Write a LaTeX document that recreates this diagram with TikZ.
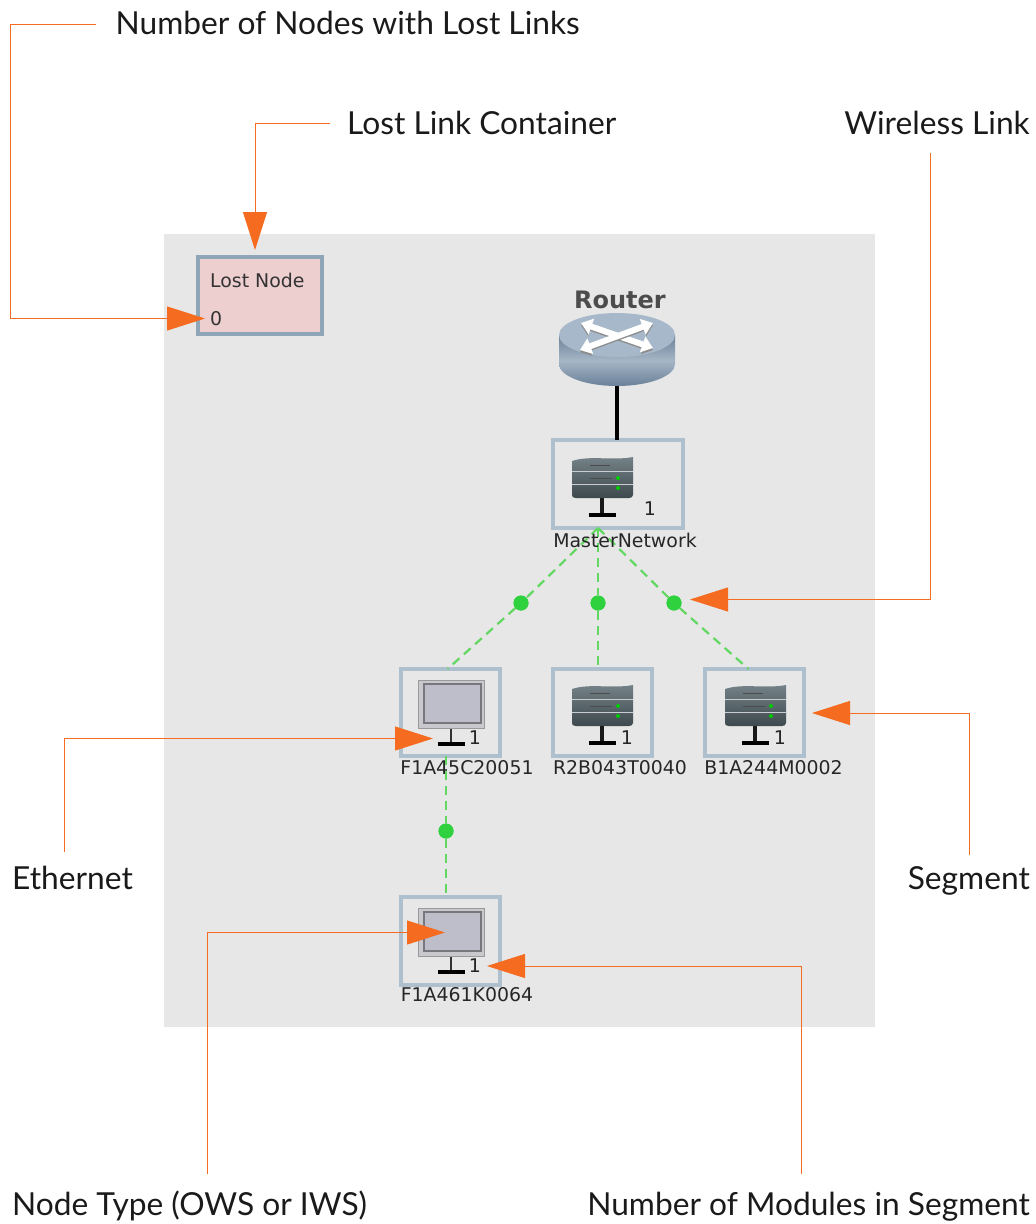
\documentclass[tikz,border=0pt]{standalone}
\usepackage{fontspec}
\setmainfont{Lato}
\newfontfamily\uifont{DejaVu Sans}
\usetikzlibrary{arrows.meta,shapes.geometric}
\definecolor{panelgray}{HTML}{E7E7E7}
\definecolor{callout}{HTML}{F56B1F}
\definecolor{boxedge}{HTML}{AEBFCE}
\definecolor{lostedge}{HTML}{8FA5B8}
\definecolor{lostfill}{HTML}{EDCFD0}
\definecolor{wifi}{HTML}{62D862}
\definecolor{wifidot}{HTML}{2FD13F}
\definecolor{inkblack}{HTML}{1A1A1A}
\definecolor{routerside}{HTML}{7F97AD}
\definecolor{routerdark}{HTML}{6A8199}
\definecolor{routertop}{HTML}{A6B8C9}
\definecolor{srvtop}{HTML}{76858B}
\definecolor{srvbot}{HTML}{3E494E}
\definecolor{monouter}{HTML}{C9C9CD}
\definecolor{moninner}{HTML}{BEBECB}
\definecolor{monedge}{HTML}{77777D}
\tikzset{
  x=1pt,y=-1pt,
  callouttext/.style={font=\fontsize{31.7}{36}\selectfont,text=inkblack,inner sep=0pt},
  uitext/.style={font=\uifont\fontsize{18.9}{22}\selectfont,text=black!85,inner sep=0pt},
  segbox/.style={draw=boxedge,line width=4pt,outer sep=0pt,inner sep=0pt},
  calloutline/.style={draw=callout,line width=0.9pt,-{Triangle[length=38pt,width=24pt,fill=callout]}},
  wifilink/.style={draw=wifi,line width=2.2pt,dash pattern=on 9pt off 6pt},
  wifinode/.style={circle,fill=wifidot,draw=none,minimum size=15pt,inner sep=0pt},
  pics/serverpic/.style={code={
    \draw[line width=3.4pt,black!90] (0,-17) -- (0,0);
    \draw[line width=3.8pt,black] (-13.5,0) -- (13.5,0);
    \shade[top color=srvtop,bottom color=srvbot]
      (-30,-54) .. controls (-12,-60) and (10,-54) .. (31,-58) -- (31,-20)
      .. controls (31,-18) and (29,-17) .. (27,-17) -- (-26,-17) .. controls (-29,-17) and (-30,-18) .. (-30,-20) -- cycle;
    \draw[white!60!srvtop,line width=0.7pt] (-30,-44) -- (31,-44) (-30,-31) -- (31,-31);
    \draw[black!70,line width=1pt] (-12,-50) -- (8,-50) (-12,-37) -- (10,-37);
    \fill[green!80!black] (16,-37) circle (2) (16,-27) circle (2);
  }},
  pics/monitorpic/.style={code={
    \draw[line width=2.6pt,black!80] (0,-16) -- (0,0);
    \draw[line width=3.8pt,black] (-13.5,0) -- (13.5,0);
    \filldraw[fill=monouter,draw=black!40,line width=1pt] (-33,-64) rectangle (33,-16);
    \filldraw[fill=moninner,draw=monedge,line width=1.6pt] (-27,-60) rectangle (30,-21);
  }}
}
\begin{document}
\begin{tikzpicture}
\useasboundingbox (0,0) rectangle (1036,1224);
\node[fill=panelgray,anchor=north west,minimum width=711pt,minimum height=793pt,inner sep=0pt,outer sep=0pt] (panel) at (164,234) {};

\coordinate (routerbottom) at (617,386);
\node[segbox,anchor=north west,minimum width=130pt,minimum height=88pt] (master) at (553,440) {};
\node[segbox,anchor=north west,minimum width=99pt,minimum height=87pt] (f1a) at (401,669) {};
\node[segbox,anchor=north west,minimum width=99pt,minimum height=87pt] (r2b) at (553,669) {};
\node[segbox,anchor=north west,minimum width=99pt,minimum height=87pt] (b1a) at (705,669) {};
\node[segbox,anchor=north west,minimum width=99pt,minimum height=88pt] (f1b) at (401,897) {};

\node[wifinode] (dotl) at (521,603) {};
\node[wifinode] (dotm) at (598,603) {};
\node[wifinode] (dotr) at (674,603) {};
\node[wifinode] (dotb) at (446,831) {};
\coordinate (hub) at (dotm |- master.south);

\draw[wifilink] (hub) -- (dotl) -- ([xshift=-3pt]f1a.north);
\draw[wifilink] (hub) -- (dotm) -- (dotm |- r2b.north);
\draw[wifilink] (hub) -- (dotr) -- ([xshift=-6pt]b1a.north);
\draw[wifilink] (dotb |- f1a.south) -- (dotb) -- (dotb |- f1b.north);
\node[wifinode] at (dotl) {};
\node[wifinode] at (dotm) {};
\node[wifinode] at (dotr) {};
\node[wifinode] at (dotb) {};

\draw[black,line width=3.4pt] (routerbottom) -- (master.north -| routerbottom);

% router icon
\shade[left color=routerdark,right color=routerdark,middle color=routerside!70!white,shading angle=0]
  (559,335) -- (559,364) arc[start angle=180,end angle=0,x radius=58,y radius=22] -- (675,335) -- cycle;
\fill[routertop] (617,335) ellipse[x radius=58,y radius=22];
\draw[black!45,line width=5pt,{Triangle[length=10pt,width=15pt,fill=black!45]}-{Triangle[length=10pt,width=15pt,fill=black!45]}] (581,325) -- (653,350);
\draw[white,line width=6pt,{Triangle[length=11pt,width=16pt,fill=white]}-{Triangle[length=11pt,width=16pt,fill=white]}] (581,323) -- (653,348);
\draw[black!45,line width=5pt,{Triangle[length=10pt,width=15pt,fill=black!45]}-{Triangle[length=10pt,width=15pt,fill=black!45]}] (653,325) -- (580,352);
\draw[white,line width=6pt,{Triangle[length=11pt,width=16pt,fill=white]}-{Triangle[length=11pt,width=16pt,fill=white]}] (653,323) -- (580,350);
\node[font=\uifont\bfseries\fontsize{24}{28}\selectfont,text=black!70,inner sep=0pt] (routerlabel) at (620,300) {Router};

% icons
\pic at (602,515) {serverpic};
\pic at (602,743) {serverpic};
\pic at (755,743) {serverpic};
\pic at (451,744) {monitorpic};
\pic at (451,972) {monitorpic};

% counts
\node[uitext] (c1) at (650,509) {1};
\node[uitext] (c2) at (475,738) {1};
\node[uitext] (c3) at (627,738) {1};
\node[uitext] (c4) at (780,738) {1};
\node[uitext] (c5) at (475,966) {1};

% node labels
\node[uitext] (lm) at (625,540) {MasterNetwork};
\node[uitext] (l1) at (467,768) {F1A45C20051};
\node[uitext] (l2) at (620,768) {R2B043T0040};
\node[uitext] (l3) at (773.5,768) {B1A244M0002};
\node[uitext] (l4) at (467,995) {F1A461K0064};

% lost box
\node[draw=lostedge,line width=4pt,outer sep=0pt,fill=lostfill,anchor=north west,minimum width=124pt,minimum height=77pt,inner sep=0pt] (lost) at (198,257) {};
\node[uitext,anchor=west,text=black!80] (losttext) at (210,280.5) {Lost Node};
\node[uitext,anchor=west,text=black!80] (lostcount) at (210,319) {0};

% callout labels
\node[callouttext,anchor=base west] (t1) at (115.5,34) {Number of Nodes with Lost Links};
\node[callouttext,anchor=base west] (t2) at (347,134) {Lost Link Container};
\node[callouttext,anchor=base east] (t3) at (1030,134) {Wireless Link};
\node[callouttext,anchor=base west] (t4) at (12,889) {Ethernet};
\node[callouttext,anchor=base east] (t5) at (1030,889) {Segment};
\node[callouttext,anchor=base west] (t6) at (12,1215) {Node Type (OWS or IWS)};
\node[callouttext,anchor=base east] (t7) at (1030,1215) {Number of Modules in Segment};

% callout connectors
\coordinate (s1) at (96,24.5);  \coordinate (e1) at (205,318.5);
\coordinate (s2) at (330,123.5);\coordinate (e2) at (255,250);
\coordinate (s3) at (930.5,153);\coordinate (e3) at (690,599.5);
\coordinate (s4) at (64,852); \coordinate (e4) at (433,738.5);
\coordinate (s5) at (969.5,855);\coordinate (e5) at (812,713);
\coordinate (s6) at (207,1174);\coordinate (e6) at (445,932.5);
\coordinate (s7) at (801.5,1174);\coordinate (e7) at (487,966);
\draw[calloutline] (s1) -- (10,24.5) -- (10,318.5) -- (e1);
\draw[calloutline] (s2) -- (s2 -| e2) -- (e2);
\draw[calloutline] (s3) -- (s3 |- e3) -- (e3);
\draw[calloutline] (s4) -- (s4 |- e4) -- (e4);
\draw[calloutline] (s5) -- (s5 |- e5) -- (e5);
\draw[calloutline] (s6) -- (s6 |- e6) -- (e6);
\draw[calloutline] (s7) -- (s7 |- e7) -- (e7);
\end{tikzpicture}
\end{document}
